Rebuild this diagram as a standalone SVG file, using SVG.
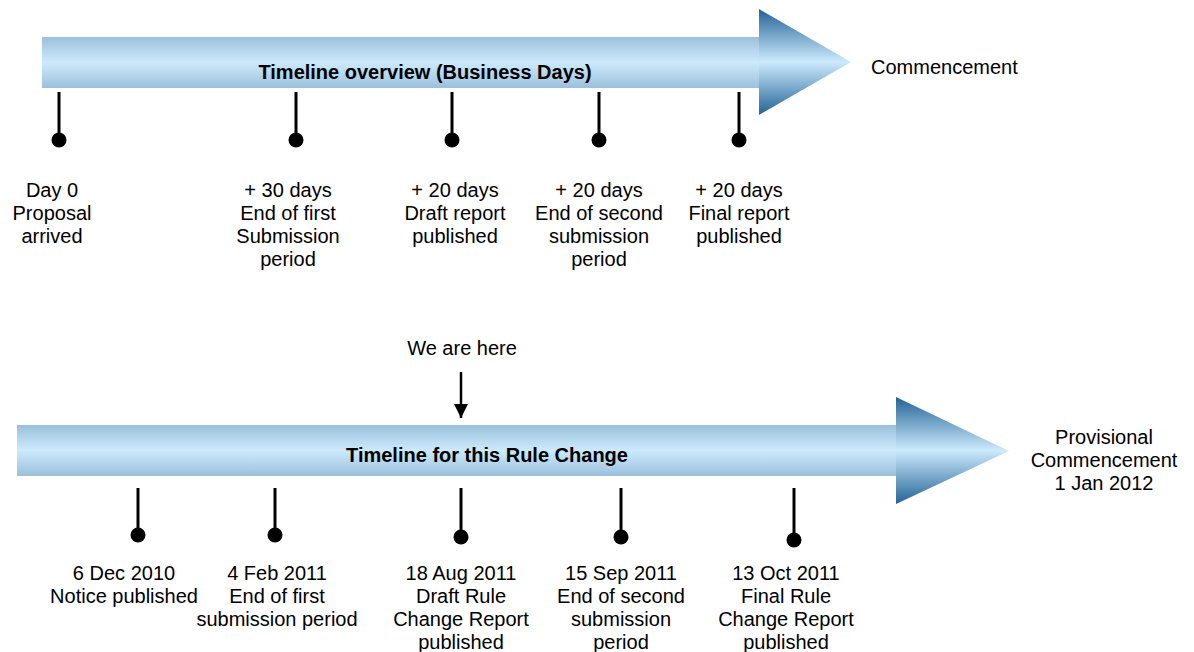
<svg xmlns="http://www.w3.org/2000/svg" width="1194" height="652" viewBox="0 0 1194 652">
  <defs>
    <linearGradient id="bodyGrad" x1="0" y1="0" x2="0" y2="1">
      <stop offset="0" stop-color="#9cc0db"/>
      <stop offset="0.5" stop-color="#cceafc"/>
      <stop offset="1" stop-color="#9cc0db"/>
    </linearGradient>
    <linearGradient id="headGrad" x1="0" y1="0" x2="0" y2="1">
      <stop offset="0" stop-color="#236397"/>
      <stop offset="0.5" stop-color="#cceafc"/>
      <stop offset="1" stop-color="#236397"/>
    </linearGradient>
    <marker id="downHead" viewBox="0 0 10 10" refX="10" refY="5" markerWidth="14" markerHeight="14" markerUnits="userSpaceOnUse" orient="auto">
      <path d="M0,0 L10,5 L0,10 Z" fill="#000"/>
    </marker>
  </defs>
  <style>
    text { font-family: "Liberation Sans", Arial, sans-serif; font-size: 20px; fill: #000; }
    .title { font-weight: bold; }
    .mid { text-anchor: middle; }
    .stem { stroke: #000; stroke-width: 3; }
    .dot { fill: #000; }
  </style>

  <!-- Upper timeline arrow -->
  <g id="overview-arrow">
    <rect x="42" y="37" width="718" height="51" fill="url(#bodyGrad)"/>
    <polygon points="759,9 851,62 759,115" fill="url(#headGrad)"/>
    <text class="title mid" x="425" y="79">Timeline overview (Business Days)</text>
  </g>
  <g id="commencement">
    <text x="871" y="74">Commencement</text>
  </g>

  <!-- Upper milestones -->
  <g id="day0">
    <line class="stem" x1="59" y1="92" x2="59" y2="136"/>
    <circle class="dot" cx="59" cy="140" r="7.5"/>
    <text class="mid" x="52" y="197">Day 0</text>
    <text class="mid" x="52" y="220">Proposal</text>
    <text class="mid" x="52" y="243">arrived</text>
  </g>
  <g id="first-submission">
    <line class="stem" x1="296" y1="92" x2="296" y2="136"/>
    <circle class="dot" cx="296" cy="140" r="7.5"/>
    <text class="mid" x="288" y="197">+ 30 days</text>
    <text class="mid" x="288" y="220">End of first</text>
    <text class="mid" x="288" y="243">Submission</text>
    <text class="mid" x="288" y="266">period</text>
  </g>
  <g id="draft-report">
    <line class="stem" x1="452" y1="92" x2="452" y2="136"/>
    <circle class="dot" cx="452" cy="140" r="7.5"/>
    <text class="mid" x="455" y="197">+ 20 days</text>
    <text class="mid" x="455" y="220">Draft report</text>
    <text class="mid" x="455" y="243">published</text>
  </g>
  <g id="second-submission">
    <line class="stem" x1="599" y1="92" x2="599" y2="136"/>
    <circle class="dot" cx="599" cy="140" r="7.5"/>
    <text class="mid" x="599" y="197">+ 20 days</text>
    <text class="mid" x="599" y="220">End of second</text>
    <text class="mid" x="599" y="243">submission</text>
    <text class="mid" x="599" y="266">period</text>
  </g>
  <g id="final-report">
    <line class="stem" x1="739" y1="92" x2="739" y2="136"/>
    <circle class="dot" cx="739" cy="140" r="7.5"/>
    <text class="mid" x="739" y="197">+ 20 days</text>
    <text class="mid" x="739" y="220">Final report</text>
    <text class="mid" x="739" y="243">published</text>
  </g>

  <!-- Current position marker -->
  <g id="we-are-here">
    <text class="mid" x="462" y="355">We are here</text>
  </g>
  <g id="connectors">
    <line x1="461" y1="372" x2="461" y2="418" stroke="#000" stroke-width="2.5" marker-end="url(#downHead)"/>
  </g>

  <!-- Lower timeline arrow -->
  <g id="rule-change-arrow">
    <rect x="17" y="425" width="880" height="51" fill="url(#bodyGrad)"/>
    <polygon points="896,397 1009,451 896,504" fill="url(#headGrad)"/>
    <text class="title mid" x="487" y="462">Timeline for this Rule Change</text>
  </g>
  <g id="provisional-commencement">
    <text class="mid" x="1104" y="444">Provisional</text>
    <text class="mid" x="1104" y="467">Commencement</text>
    <text class="mid" x="1104" y="490">1 Jan 2012</text>
  </g>

  <!-- Lower milestones -->
  <g id="notice">
    <line class="stem" x1="138" y1="488" x2="138" y2="531"/>
    <circle class="dot" cx="138" cy="535" r="7.5"/>
    <text class="mid" x="124" y="580">6 Dec 2010</text>
    <text class="mid" x="124" y="603">Notice published</text>
  </g>
  <g id="first-submission-date">
    <line class="stem" x1="275" y1="488" x2="275" y2="531"/>
    <circle class="dot" cx="275" cy="535" r="7.5"/>
    <text class="mid" x="277" y="580">4 Feb 2011</text>
    <text class="mid" x="277" y="603">End of first</text>
    <text class="mid" x="277" y="626">submission period</text>
  </g>
  <g id="draft-rule-report">
    <line class="stem" x1="461" y1="488" x2="461" y2="533"/>
    <circle class="dot" cx="461" cy="537" r="7.5"/>
    <text class="mid" x="461" y="580">18 Aug 2011</text>
    <text class="mid" x="461" y="603">Draft Rule</text>
    <text class="mid" x="461" y="626">Change Report</text>
    <text class="mid" x="461" y="649">published</text>
  </g>
  <g id="second-submission-date">
    <line class="stem" x1="621" y1="488" x2="621" y2="533"/>
    <circle class="dot" cx="621" cy="537" r="7.5"/>
    <text class="mid" x="621" y="580">15 Sep 2011</text>
    <text class="mid" x="621" y="603">End of second</text>
    <text class="mid" x="621" y="626">submission</text>
    <text class="mid" x="621" y="649">period</text>
  </g>
  <g id="final-rule-report">
    <line class="stem" x1="794" y1="488" x2="794" y2="536"/>
    <circle class="dot" cx="794" cy="540" r="7.5"/>
    <text class="mid" x="786" y="580">13 Oct 2011</text>
    <text class="mid" x="786" y="603">Final Rule</text>
    <text class="mid" x="786" y="626">Change Report</text>
    <text class="mid" x="786" y="649">published</text>
  </g>
</svg>
